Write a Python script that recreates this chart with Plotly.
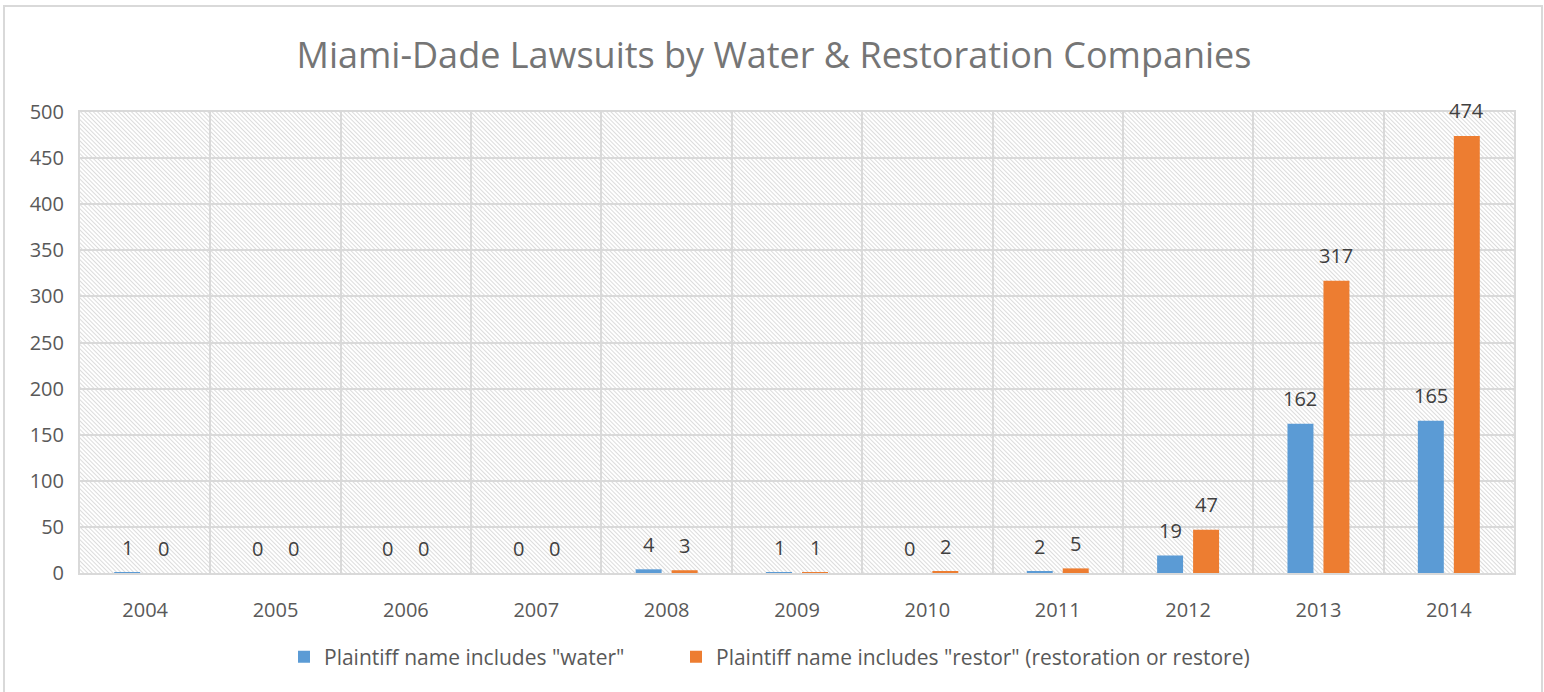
import base64
import plotly.graph_objects as go

years = ["2004", "2005", "2006", "2007", "2008", "2009", "2010", "2011", "2012", "2013", "2014"]
water = [1, 0, 0, 0, 4, 1, 0, 2, 19, 162, 165]
restor = [0, 0, 0, 0, 3, 1, 2, 5, 47, 317, 474]
series_names = ['Plaintiff name includes "water"',
                'Plaintiff name includes "restor" (restoration or restore)']
colors = ["#5B9BD5", "#ED7D31"]
title_text = "Miami-Dade Lawsuits by Water & Restoration Companies"

W, H = 1544, 692
ML, MR, MT, MB = 80, 30, 112, 119
PW, PH = W - ML - MR, H - MT - MB

FONT = "Open Sans"
GRID = "#D9D9D9"

# hatched background for the plot area
svg = f'''<svg xmlns="http://www.w3.org/2000/svg" width="{PW}" height="{PH}" viewBox="0 0 {PW} {PH}" preserveAspectRatio="none">
<defs><pattern id="h" width="3" height="3" patternUnits="userSpaceOnUse" patternTransform="rotate(-45)">
<rect width="3" height="3" fill="white"/><line x1="0.5" y1="0" x2="0.5" y2="3" stroke="#DCDCDC" stroke-width="1"/></pattern></defs>
<rect width="{PW}" height="{PH}" fill="url(#h)"/></svg>'''
svg_uri = "data:image/svg+xml;base64," + base64.b64encode(svg.encode()).decode()

fig = go.Figure()
legends = ["legend", "legend2"]
for name, vals, col, lg in zip(series_names, [water, restor], colors, legends):
    fig.add_trace(go.Bar(x=years, y=vals, name=name, legend=lg, showlegend=True,
                         marker=dict(color=col, line=dict(width=0))))

annotations = []
for vals, shift in [(water, -18), (restor, 18)]:
    for i, v in enumerate(vals):
        annotations.append(dict(x=i, y=v, xref="x", yref="y", text=str(v), showarrow=False,
                                xshift=shift, yshift=25, yanchor="middle",
                                font=dict(family=FONT, size=20, color="#404040")))

legend_common = dict(orientation="h", yanchor="middle", y=-(657 - 573) / PH, xanchor="left",
                     itemwidth=30, itemclick=False, bgcolor="rgba(0,0,0,0)",
                     font=dict(family=FONT, size=21, color="#595959"))

fig.update_layout(
    width=W, height=H,
    margin=dict(l=ML, r=MR, t=MT, b=MB),
    paper_bgcolor="white", plot_bgcolor="rgba(0,0,0,0)",
    showlegend=True,
    barmode="group", bargap=0.448, bargroupgap=0.278,
    title=dict(text=title_text, x=774 / W, xanchor="center", y=1 - 55 / H, yanchor="middle",
               font=dict(family=FONT, size=36, color="#757575")),
    font=dict(family=FONT, size=20, color="#595959"),
    legend=dict(x=(284 - ML) / PW, visible=True, **legend_common),
    legend2=dict(x=(676 - ML) / PW, visible=True, **legend_common),
    annotations=annotations,
    images=[dict(source=svg_uri, xref="paper", yref="paper", x=0, y=1, sizex=1, sizey=1,
                 sizing="stretch", xanchor="left", yanchor="top", layer="below")],
    shapes=[dict(type="rect", xref="paper", yref="paper",
                 x0=(4 - ML) / PW, x1=(1542 - ML) / PW, y0=-(700 - 573) / PH, y1=(573 - 6) / PH,
                 line=dict(color=GRID, width=2), fillcolor="rgba(0,0,0,0)", layer="below")],
)
fig.update_xaxes(type="category", range=[-0.5, len(years) - 0.5], tickson="boundaries",
                 showgrid=True, gridcolor=GRID, gridwidth=2,
                 showline=True, linecolor=GRID, linewidth=2, mirror=True, ticks="",
                 ticklabelstandoff=18, tickfont=dict(family=FONT, size=20, color="#595959"))
fig.update_yaxes(range=[0, 500], dtick=50, showgrid=True, gridcolor=GRID, gridwidth=2,
                 showline=True, linecolor=GRID, linewidth=2, mirror=True, zeroline=False, ticks="",
                 ticklabelstandoff=10, tickfont=dict(family=FONT, size=20, color="#595959"))

fig.write_html("out.html", config={"displayModeBar": False},
               post_script="document.body.style.margin='0';document.body.style.overflow='hidden';")
